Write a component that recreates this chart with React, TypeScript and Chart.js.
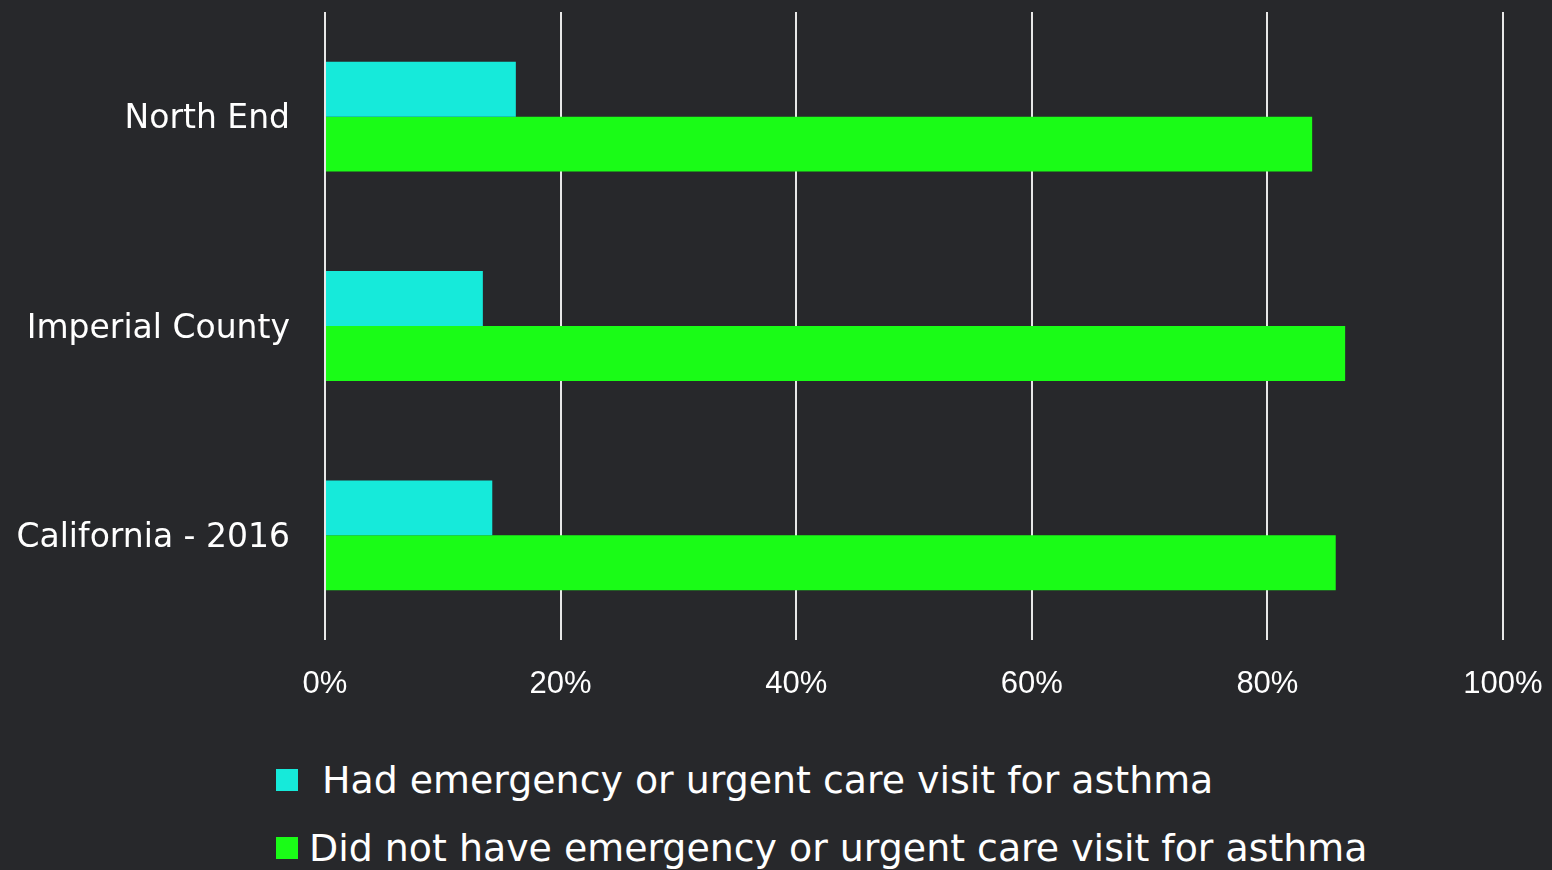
import React, { useEffect, useRef } from "react";
import { Chart, registerables } from "chart.js";

Chart.register(...registerables);

const categories = ["North End", "Imperial County", "California - 2016"];
const hadVisit = [16.2, 13.4, 14.2];
const noVisit = [83.8, 86.6, 85.8];
const seriesLabels = [
  "Had emergency or urgent care visit for asthma",
  "Did not have emergency or urgent care visit for asthma",
];
const seriesColors = ["#16EADA", "#1AFC17"];
const xTicks = [0, 20, 40, 60, 80, 100];

const LABEL_FONT = "'DejaVu Sans', sans-serif";
const TICK_FONT = "'Liberation Sans', Arial, sans-serif";
const BG = "#27282B";

export default function App() {
  const canvasRef = useRef<HTMLCanvasElement | null>(null);

  useEffect(() => {
    document.body.style.margin = "0";
    document.body.style.background = BG;
    const ctx = canvasRef.current!;
    const chart = new Chart(ctx, {
      type: "bar",
      data: {
        labels: categories,
        datasets: [
          {
            label: seriesLabels[0],
            data: hadVisit,
            backgroundColor: seriesColors[0],
            categoryPercentage: 0.525,
            barPercentage: 1,
          },
          {
            label: seriesLabels[1],
            data: noVisit,
            backgroundColor: seriesColors[1],
            categoryPercentage: 0.525,
            barPercentage: 1,
          },
        ],
      },
      options: {
        indexAxis: "y",
        animation: false,
        responsive: false,
        maintainAspectRatio: false,
        layout: { padding: { top: 12, right: 49, left: 0, bottom: 0 } },
        plugins: {
          legend: { display: false },
          tooltip: { enabled: false },
        },
        scales: {
          x: {
            min: 0,
            max: 100,
            afterBuildTicks: (scale: any) => {
              scale.ticks = xTicks.map((v) => ({ value: v }));
            },
            afterFit: (scale: any) => {
              scale.height = 80;
              scale.paddingLeft = 0;
              scale.paddingRight = 0;
            },
            grid: {
              color: "#E8E8E8",
              lineWidth: 2,
              drawTicks: false,
            },
            border: { display: false },
            ticks: {
              color: "#FFFFFF",
              font: { family: TICK_FONT, size: 31 },
              padding: 26,
              callback: (v: any) => v + "%",
            },
          },
          y: {
            afterFit: (scale: any) => {
              scale.width = 325;
              scale.paddingTop = 0;
              scale.paddingBottom = 0;
            },
            grid: { display: false, drawTicks: false },
            border: { display: false },
            ticks: {
              color: "#FFFFFF",
              font: { family: LABEL_FONT, size: 33 },
              padding: 35,
              labelOffset: 3,
            },
          },
        },
      },
    });
    return () => chart.destroy();
  }, []);

  return (
    <div
      style={{
        position: "relative",
        width: 1552,
        height: 870,
        background: BG,
        overflow: "hidden",
        fontFamily: LABEL_FONT,
      }}
    >
      <canvas
        ref={canvasRef}
        width={1552}
        height={720}
        style={{ position: "absolute", left: 0, top: 0, width: 1552, height: 720 }}
      />
      {seriesLabels.map((label, i) => (
        <div
          key={label}
          style={{
            position: "absolute",
            left: 276,
            top: i === 0 ? 757 : 825,
            height: 46,
            display: "flex",
            alignItems: "center",
            whiteSpace: "nowrap",
          }}
        >
          <span
            style={{
              display: "inline-block",
              width: 22,
              height: 22,
              flex: "0 0 auto",
              background: seriesColors[i],
              marginRight: i === 0 ? 24 : 11,
            }}
          />
          <span style={{ color: "#FFFFFF", fontSize: 37.9, lineHeight: "46px" }}>{label}</span>
        </div>
      ))}
    </div>
  );
}
